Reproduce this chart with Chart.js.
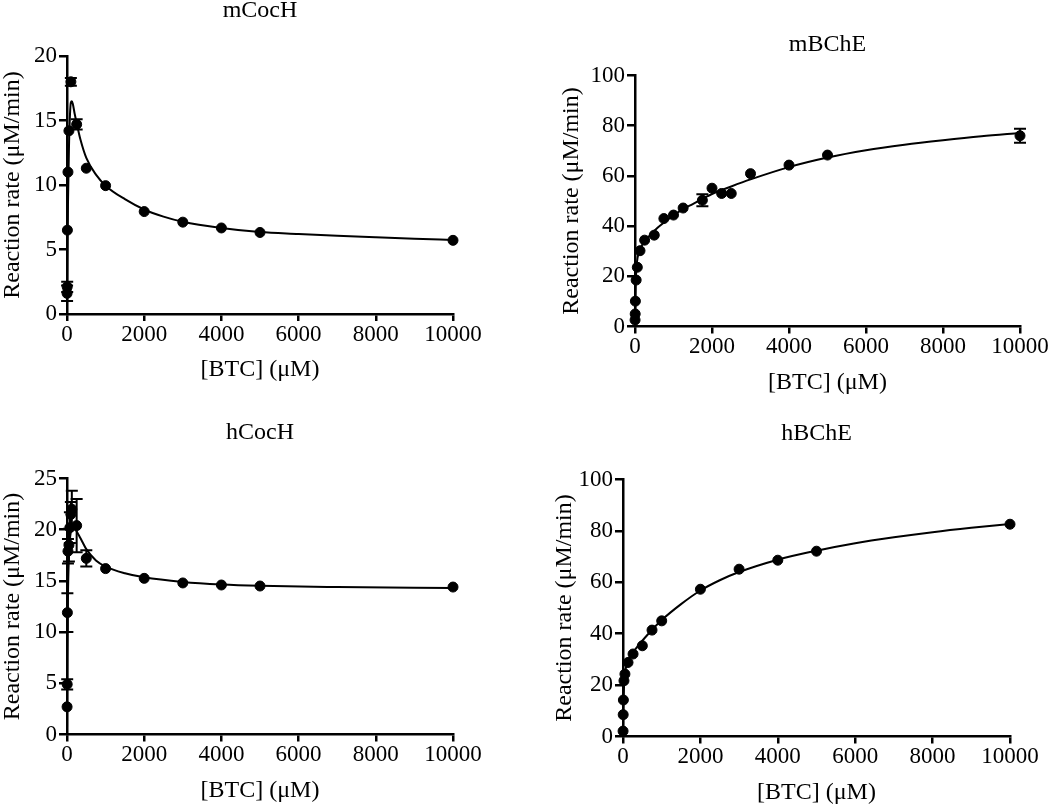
<!DOCTYPE html>
<html>
<head>
<meta charset="utf-8">
<title>BTC kinetics</title>
<script src="https://cdn.jsdelivr.net/npm/chart.js@4.4.6/dist/chart.umd.min.js"></script>
<style>
  html, body { margin: 0; padding: 0; background: #fff; }
  body { width: 1050px; height: 811px; overflow: hidden; position: relative; }
  canvas { position: absolute; }
</style>
</head>
<body>
<canvas id="chart-mcoch" width="525" height="400"></canvas>
<canvas id="chart-mbche" width="525" height="400"></canvas>
<canvas id="chart-hcoch" width="525" height="400"></canvas>
<canvas id="chart-hbche" width="525" height="400"></canvas>
<script>
// ---- data ----
const xTicks = [0, 2000, 4000, 6000, 8000, 10000];

// mCocH
const mCocH_x   = [2, 5, 10, 25, 50, 100, 250, 500, 1000, 2000, 3000, 4000, 5000, 10000];
const mCocH_y   = [1.6, 2.1, 6.5, 11.0, 14.2, 18.0, 14.7, 11.3, 9.95, 7.94, 7.12, 6.67, 6.32, 5.71];
const mCocH_err = [0.6, 0.4, 0, 0, 0, 0.3, 0.4, 0, 0, 0, 0, 0, 0, 0];
const mCocH_fitX = [0, 10, 25, 50, 75, 100, 125, 150, 200, 250, 350, 500, 750, 1000, 1500, 2000, 2500, 3000, 4000, 5000, 6000, 7000, 8000, 9000, 10000];
const mCocH_fitY = [0, 4, 8.5, 12.8, 15.3, 16.4, 16.5, 16.3, 15.5, 14.8, 13.5, 12.1, 10.8, 9.95, 8.9, 8.1, 7.55, 7.15, 6.67, 6.35, 6.2, 6.06, 5.94, 5.83, 5.74];

// mBChE
const mBChE_x   = [2, 5, 10, 30, 60, 130, 250, 500, 750, 1000, 1250, 1750, 2000, 2250, 2500, 3000, 4000, 5000, 10000];
const mBChE_y   = [2.6, 5.0, 10.1, 18.5, 23.6, 30.2, 34.4, 36.4, 43.0, 44.4, 47.2, 50.3, 55.1, 53.0, 53.0, 60.9, 64.3, 68.3, 76.0];
const mBChE_err = [0, 0, 0, 0, 0, 0, 0, 0, 0, 0, 0, 2.4, 0, 0, 0, 0, 0, 0, 2.8];
const mBChE_fitX = [0, 10, 25, 50, 100, 200, 400, 600, 800, 1000, 1250, 1500, 2000, 2500, 3000, 4000, 5000, 6000, 7000, 8000, 9000, 10000];
const mBChE_fitY = [0, 12, 20, 25.5, 29.5, 32.8, 36.5, 39.5, 42, 44.3, 46.8, 48.8, 52.8, 55.8, 58.6, 63.5, 67.3, 70.2, 72.4, 74.2, 75.8, 77.1];

// hCocH
const hCocH_x   = [2, 5, 10, 25, 50, 75, 100, 125, 250, 500, 1000, 2000, 3000, 4000, 5000, 10000];
const hCocH_y   = [2.7, 4.9, 11.9, 17.9, 18.5, 20.2, 21.5, 22.0, 20.4, 17.2, 16.2, 15.25, 14.8, 14.6, 14.5, 14.4];
const hCocH_err = [0, 0.5, 1.9, 1.2, 1.6, 1.5, 1.2, 1.8, 2.6, 0.8, 0, 0, 0, 0, 0, 0];
const hCocH_fitX = [0, 5, 10, 25, 50, 75, 100, 150, 200, 300, 400, 500, 750, 1000, 1500, 2000, 3000, 4000, 5000, 7000, 10000];
const hCocH_fitY = [0, 3.5, 7.5, 13.5, 17.3, 19, 19.8, 20.2, 20.1, 19.5, 18.8, 18.1, 17.0, 16.4, 15.75, 15.35, 14.9, 14.65, 14.52, 14.4, 14.3];

// hBChE
const hBChE_x   = [2, 5, 10, 25, 50, 130, 260, 500, 750, 1000, 2000, 3000, 4000, 5000, 10000];
const hBChE_y   = [2.1, 8.5, 14.2, 21.7, 24.3, 28.8, 32.1, 35.3, 41.4, 45.0, 57.3, 65.1, 68.6, 72.1, 82.6];
const hBChE_err = [0, 0, 0, 0, 0, 0, 0, 0, 0, 0, 0, 0, 0, 0, 0];
const hBChE_fitX = [0, 10, 25, 50, 100, 200, 400, 600, 800, 1000, 1500, 2000, 2500, 3000, 4000, 5000, 6000, 7000, 8000, 9000, 10000];
const hBChE_fitY = [0, 11, 19, 24.5, 28, 31.3, 35.5, 39, 42.3, 45.3, 51.5, 56.8, 60.8, 64, 68.8, 72.3, 75.2, 77.5, 79.5, 81.2, 82.7];

const X_TITLE = "[BTC] (μM)";
const Y_TITLE = "Reaction rate (μM/min)";
const FONT = "'Liberation Serif', 'Times New Roman', serif";

// ---- panel placement (page px) ----
const panels = [
  { id: "mcoch", title: "mCocH", x: mCocH_x, y: mCocH_y, err: mCocH_err, fx: mCocH_fitX, fy: mCocH_fitY,
    yMax: 20, yStep: 5, left: 0, top: -1, yAxisW: 67, padRight: 72, titleGap: 33, padBottom: 13, yTitlePad: 1 },
  { id: "mbche", title: "mBChE", x: mBChE_x, y: mBChE_y, err: mBChE_err, fx: mBChE_fitX, fy: mBChE_fitY,
    yMax: 100, yStep: 20, left: 525, top: 32.5, yAxisW: 110, padRight: 30, titleGap: 18.5, padBottom: 34.5, yTitlePad: 35 },
  { id: "hcoch", title: "hCocH", x: hCocH_x, y: hCocH_y, err: hCocH_err, fx: hCocH_fitX, fy: hCocH_fitY,
    yMax: 25, yStep: 5, left: 0, top: 420.5, yAxisW: 67, padRight: 72, titleGap: 33.5, padBottom: 14.5, yTitlePad: 1 },
  { id: "hbche", title: "hBChE", x: hBChE_x, y: hBChE_y, err: hBChE_err, fx: hBChE_fitX, fy: hBChE_fitY,
    yMax: 100, yStep: 20, left: 525, top: 421.5, yAxisW: 98, padRight: 40, titleGap: 33.5, padBottom: 13.5, yTitlePad: 28 },
];

// vertical error bars with caps, drawn through the chart's own scales
const errorBars = {
  id: "errorBars",
  afterDatasetsDraw(chart) {
    const { ctx, scales: { y } } = chart;
    chart.data.datasets.forEach((ds, i) => {
      if (!ds.errors) return;
      const meta = chart.getDatasetMeta(i);
      ctx.save();
      ctx.strokeStyle = "#000";
      ctx.lineWidth = 2;
      meta.data.forEach((pt, j) => {
        const e = ds.errors[j];
        if (!e) return;
        const v = ds.data[j].y;
        const top = y.getPixelForValue(v + e);
        const bot = y.getPixelForValue(v - e);
        ctx.beginPath();
        ctx.moveTo(pt.x, top); ctx.lineTo(pt.x, bot);
        ctx.moveTo(pt.x - 6, top); ctx.lineTo(pt.x + 6, top);
        ctx.moveTo(pt.x - 6, bot); ctx.lineTo(pt.x + 6, bot);
        ctx.stroke();
      });
      ctx.restore();
    });
  },
};

function axisStyle(tickLength) {
  return {
    border: { display: true, color: "#000", width: 2.5 },
    grid: { drawOnChartArea: false, drawTicks: true, tickLength, color: "#000", lineWidth: 2.5 },
  };
}

for (const p of panels) {
  const el = document.getElementById(`chart-${p.id}`);
  el.style.left = p.left + "px";
  el.style.top = p.top + "px";

  new Chart(el, {
    type: "scatter",
    data: {
      datasets: [
        {
          type: "line",
          data: p.fx.map((x, i) => ({ x, y: p.fy[i] })),
          borderColor: "#000",
          borderWidth: 2,
          pointRadius: 0,
          fill: false,
          cubicInterpolationMode: "monotone",
        },
        {
          data: p.x.map((x, i) => ({ x, y: p.y[i] })),
          errors: p.err,
          backgroundColor: "#000",
          borderColor: "#000",
          pointRadius: 5,
          pointHoverRadius: 5,
          clip: false,
        },
      ],
    },
    options: {
      responsive: false,
      animation: false,
      events: [],
      layout: { padding: { left: 0, right: p.padRight, top: 0, bottom: p.padBottom } },
      plugins: {
        legend: { display: false },
        tooltip: { enabled: false },
        title: {
          display: true,
          text: p.title,
          fullSize: false,
          color: "#000",
          font: { family: FONT, size: 24, weight: "normal", lineHeight: 1 },
          padding: { top: 0, bottom: p.titleGap },
        },
      },
      scales: {
        x: {
          type: "linear",
          min: 0,
          max: 10000,
          afterFit: s => { s.height = 72; },
          afterBuildTicks: s => { s.ticks = xTicks.map(value => ({ value })); },
          ...axisStyle(7),
          ticks: {
            color: "#000",
            padding: 0,
            maxRotation: 0,
            font: { family: FONT, size: 23 },
            callback: v => String(v),
          },
          title: {
            display: true,
            text: X_TITLE,
            color: "#000",
            font: { family: FONT, size: 24, lineHeight: 1 },
            padding: { top: 0, bottom: 4 },
          },
        },
        y: {
          type: "linear",
          min: 0,
          max: p.yMax,
          afterFit: s => { s.width = p.yAxisW; },
          ...axisStyle(8),
          ticks: {
            stepSize: p.yStep,
            color: "#000",
            padding: 2,
            font: { family: FONT, size: 23 },
            callback: v => String(v),
          },
          title: {
            display: true,
            text: Y_TITLE,
            color: "#000",
            font: { family: FONT, size: 24, lineHeight: 1 },
            padding: { top: p.yTitlePad, bottom: 0 },
          },
        },
      },
    },
    plugins: [errorBars],
  });
}
</script>
</body>
</html>
